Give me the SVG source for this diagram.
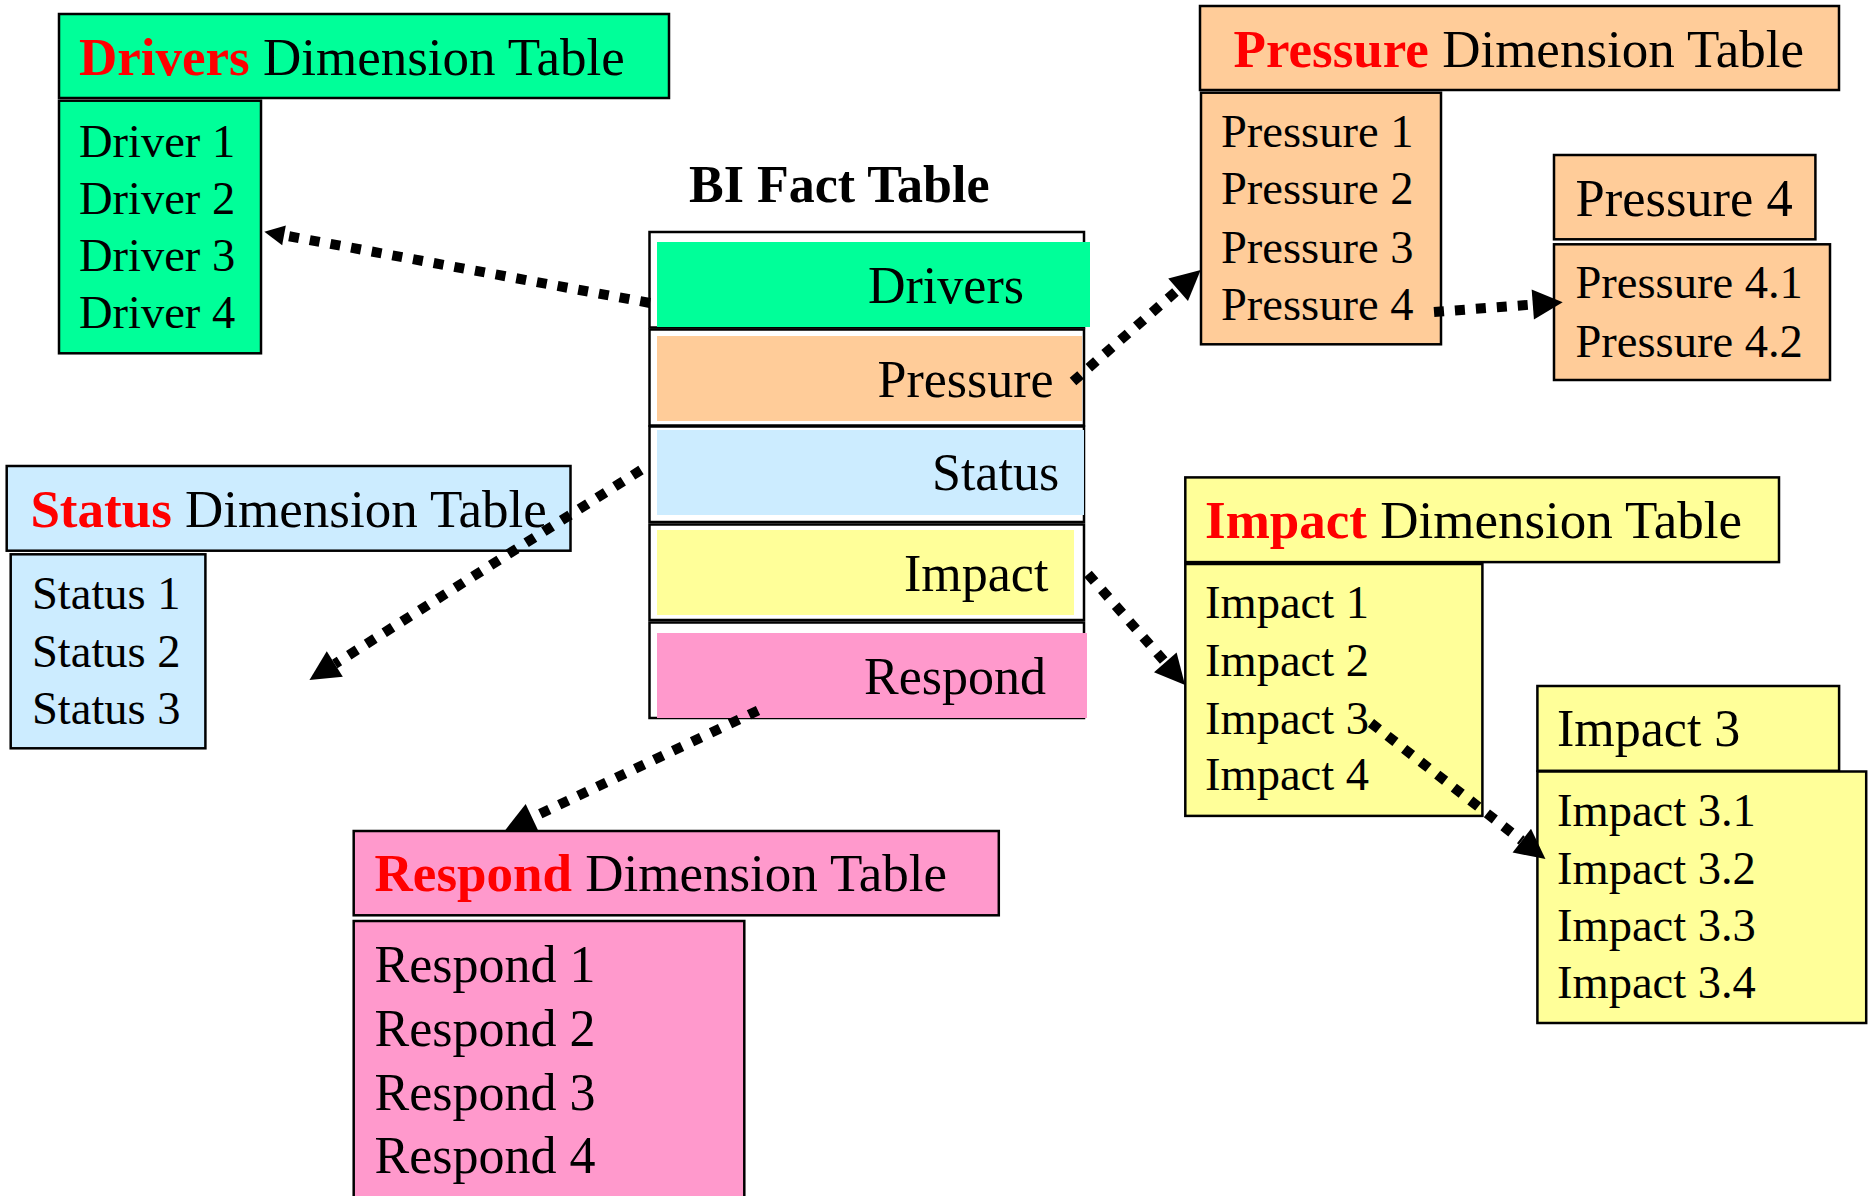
<svg xmlns="http://www.w3.org/2000/svg" width="1869" height="1196" viewBox="0 0 1869 1196">
  <defs>
    <style>
      text { font-family: "Liberation Serif", "Times New Roman", serif; fill: #000; }
      .hdr { font-size: 53px; }
      .key { font-weight: bold; fill: #FF0000; }
      .item { font-size: 46.5px; }
      .big { font-size: 52px; }
      .box { stroke: #000; stroke-width: 2.5; }
      .green { fill: #00FF99; }
      .peach { fill: #FFCC99; }
      .blue { fill: #CCECFF; }
      .yellow { fill: #FFFF99; }
      .pink { fill: #FF99CC; }
      .row { fill: #FFFFFF; stroke: #000; stroke-width: 2.5; }
      .link { fill: none; stroke: #000; stroke-width: 10; stroke-dasharray: 10 11; }
    </style>
    <marker id="head" viewBox="0 0 30 30" refX="0" refY="15" markerWidth="30" markerHeight="30" markerUnits="userSpaceOnUse" orient="auto" overflow="visible">
      <path d="M0,0 L30,15 L0,30 Z" fill="#000"/>
    </marker>
    <marker id="head-sm" viewBox="0 0 20 20" refX="0" refY="10" markerWidth="20" markerHeight="20" markerUnits="userSpaceOnUse" orient="auto" overflow="visible">
      <path d="M0,0 L20,10 L0,20 Z" fill="#000"/>
    </marker>
  </defs>

  <!-- central fact table -->
  <g id="fact-table">
    <text x="689" y="202" font-size="52" font-weight="bold">BI Fact Table</text>
    <rect class="row" x="649.5" y="232" width="434.5" height="95.5"/>
    <rect class="row" x="649.5" y="329.5" width="434.5" height="96"/>
    <rect class="row" x="649.5" y="426.5" width="434.5" height="95.5"/>
    <rect class="row" x="649.5" y="524.5" width="434.5" height="95.5"/>
    <rect class="row" x="649.5" y="622.5" width="434.5" height="95.5"/>
    <rect class="green" x="657" y="242" width="433" height="85"/>
    <rect class="peach" x="657" y="336" width="425" height="85"/>
    <rect class="blue" x="657" y="430" width="427" height="85"/>
    <rect class="yellow" x="657" y="530" width="417" height="85"/>
    <rect class="pink" x="657" y="633" width="430" height="85"/>
    <text class="big" x="868" y="302.5">Drivers</text>
    <text class="big" x="877.5" y="397">Pressure</text>
    <text class="big" x="932" y="489.5">Status</text>
    <text class="big" x="904" y="591">Impact</text>
    <text class="big" x="864" y="694">Respond</text>
  </g>

  <!-- drivers dimension -->
  <g id="drivers-dim">
    <rect class="box green" x="59" y="14" width="610" height="84"/>
    <text class="hdr" x="79" y="75"><tspan class="key">Drivers</tspan> Dimension Table</text>
    <rect class="box green" x="59" y="100.7" width="202" height="252.6"/>
    <text class="item" x="79" y="156.7">Driver 1</text>
    <text class="item" x="79" y="214">Driver 2</text>
    <text class="item" x="79" y="270.7">Driver 3</text>
    <text class="item" x="79" y="328.3">Driver 4</text>
  </g>

  <!-- pressure dimension -->
  <g id="pressure-dim">
    <rect class="box peach" x="1200" y="6" width="639" height="84"/>
    <text class="hdr" x="1233.6" y="66.7"><tspan class="key">Pressure</tspan> Dimension Table</text>
    <rect class="box peach" x="1201" y="92.7" width="240" height="251.6"/>
    <text class="item" x="1221" y="146.7">Pressure 1</text>
    <text class="item" x="1221" y="204">Pressure 2</text>
    <text class="item" x="1221" y="262.7">Pressure 3</text>
    <text class="item" x="1221" y="320">Pressure 4</text>
  </g>

  <g id="pressure-4">
    <rect class="box peach" x="1554" y="155" width="261.4" height="84.3"/>
    <text x="1575.5" y="216" font-size="52.5">Pressure 4</text>
    <rect class="box peach" x="1554" y="244.3" width="276" height="135.7"/>
    <text class="item" x="1575.5" y="298.3">Pressure 4.1</text>
    <text class="item" x="1575.5" y="356.7">Pressure 4.2</text>
  </g>

  <!-- status dimension -->
  <g id="status-dim">
    <rect class="box blue" x="6.7" y="466" width="563.8" height="84.7"/>
    <text class="hdr" x="30.4" y="527.3"><tspan class="key">Status</tspan> Dimension Table</text>
    <rect class="box blue" x="10.7" y="554.3" width="194.7" height="194"/>
    <text class="item" x="32" y="608.7">Status 1</text>
    <text class="item" x="32" y="666.7">Status 2</text>
    <text class="item" x="32" y="724.3">Status 3</text>
  </g>

  <!-- impact dimension -->
  <g id="impact-dim">
    <rect class="box yellow" x="1185.3" y="477.4" width="593.7" height="84.7"/>
    <text class="hdr" x="1205" y="538.4"><tspan class="key">Impact</tspan> Dimension Table</text>
    <rect class="box yellow" x="1185.3" y="564" width="297.1" height="251.9"/>
    <text class="item" x="1205" y="618.3">Impact 1</text>
    <text class="item" x="1205" y="675.7">Impact 2</text>
    <text class="item" x="1205" y="733.8">Impact 3</text>
    <text class="item" x="1205" y="790.4">Impact 4</text>
  </g>

  <g id="impact-3">
    <rect class="box yellow" x="1537.4" y="686" width="301.7" height="84.8"/>
    <text class="big" x="1557" y="746">Impact 3</text>
    <rect class="box yellow" x="1537.4" y="771.5" width="328.8" height="251.5"/>
    <text class="item" x="1557" y="826.3">Impact 3.1</text>
    <text class="item" x="1557" y="883.6">Impact 3.2</text>
    <text class="item" x="1557" y="941">Impact 3.3</text>
    <text class="item" x="1557" y="998.3">Impact 3.4</text>
  </g>

  <!-- respond dimension -->
  <g id="respond-dim">
    <rect class="box pink" x="353.7" y="831" width="645.1" height="84.3"/>
    <text class="hdr" x="374.6" y="890.7"><tspan class="key">Respond</tspan> Dimension Table</text>
    <rect class="box pink" x="353.7" y="921" width="390.6" height="290"/>
    <text class="big" x="374.6" y="981.7">Respond 1</text>
    <text class="big" x="374.6" y="1045.7">Respond 2</text>
    <text class="big" x="374.6" y="1110">Respond 3</text>
    <text class="big" x="374.6" y="1173.3">Respond 4</text>
  </g>

  <!-- dotted links from fact columns to dimension tables -->
  <g id="connectors">
    <path class="link" d="M650,303 L284,235.3" marker-end="url(#head-sm)"/>
    <path class="link" d="M1073,381.5 L1178.1,289.7" marker-end="url(#head)"/>
    <path class="link" d="M1434,312 L1532.8,304.5" marker-end="url(#head)"/>
    <path class="link" d="M641,470 L334.8,664" marker-end="url(#head)"/>
    <path class="link" d="M1088,574 L1165.3,662.4" marker-end="url(#head)"/>
    <path class="link" d="M1371,723 L1521.8,840.6" marker-end="url(#head)"/>
    <path class="link" d="M758,710.5 L532.1,817.6" marker-end="url(#head)"/>
  </g>
</svg>
